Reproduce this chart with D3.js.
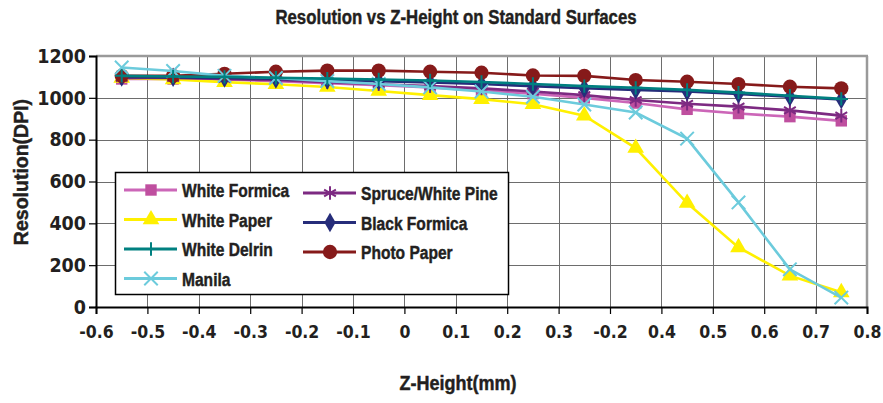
<!DOCTYPE html>
<html>
<head>
<meta charset="utf-8">
<script src="https://cdn.jsdelivr.net/npm/d3@7"></script>
<style>
  body { margin: 0; background: #fff; }
  svg { display: block; }
  text { fill: #231f20; font-weight: bold; }
</style>
</head>
<body>
<svg width="883" height="403"></svg>
<script>
// z positions of the measurements (one per category slot)
const zHeights = [-0.55, -0.45, -0.35, -0.25, -0.15, -0.05, 0.05, 0.15, 0.25, 0.35, 0.45, 0.55, 0.65, 0.75, 0.85];
// labels written under the slot boundaries, as in the original (including its odd "-0.2")
const xTickLabels = ["-0.6", "-0.5", "-0.4", "-0.3", "-0.2", "-0.1", "0", "0.1", "0.2", "0.3", "-0.2", "0.4", "0.5", "0.6", "0.7", "0.8"];
const yTicks = [0, 200, 400, 600, 800, 1000, 1200];

const whiteFormica   = [1090, 1090, 1088, 1080, 1070, 1060, 1050, 1035, 1020, 1000, 975, 945, 925, 910, 890];
const whitePaper     = [1095, 1088, 1075, 1065, 1052, 1033, 1013, 994, 969, 915, 760, 497, 285, 150, 70];
const whiteDelrin    = [1105, 1102, 1100, 1096, 1092, 1088, 1083, 1076, 1066, 1056, 1048, 1038, 1025, 1010, 995];
const manila         = [1145, 1128, 1105, 1095, 1080, 1066, 1050, 1030, 1005, 968, 930, 805, 500, 180, 45];
const spruce         = [1095, 1095, 1090, 1085, 1075, 1065, 1056, 1045, 1030, 1013, 990, 972, 958, 940, 915];
const blackFormica   = [1100, 1098, 1095, 1090, 1085, 1080, 1074, 1066, 1056, 1046, 1038, 1030, 1018, 1005, 992];
const photoPaper     = [1105, 1105, 1115, 1125, 1130, 1130, 1125, 1120, 1107, 1105, 1085, 1077, 1066, 1053, 1045];

const series = [
  { name: "White Formica",     values: whiteFormica, line: "#cc66b8", mark: "#bf4f9f", sym: d3.symbolSquare,   size: 130, fill: true },
  { name: "White Paper",       values: whitePaper,   line: "#fff000", mark: "#fff000", sym: d3.symbolTriangle, size: 120, fill: true },
  { name: "Spruce/White Pine", values: spruce,       line: "#7d2a82", mark: "#7d2a82", sym: d3.symbolAsterisk, size: 130, fill: false },
  { name: "Black Formica",     values: blackFormica, line: "#262d7a", mark: "#262d7a", sym: d3.symbolDiamond,  size: 110, fill: true },
  { name: "Photo Paper",       values: photoPaper,   line: "#861a1a", mark: "#861a1a", sym: d3.symbolCircle,   size: 160, fill: true },
  { name: "Manila",            values: manila,       line: "#6ccbdc", mark: "#6ccbdc", sym: d3.symbolTimes,    size: 120, fill: false },
  { name: "White Delrin",      values: whiteDelrin,  line: "#008080", mark: "#008080", sym: d3.symbolPlus,     size: 60,  fill: false }
];
const legendCols = [
  ["White Formica", "White Paper", "White Delrin", "Manila"],
  ["Spruce/White Pine", "Black Formica", "Photo Paper"]
];

const svg = d3.select("svg");
const sans = "'Liberation Sans', Arial, sans-serif";
const cond = "'DejaVu Sans Condensed', 'Liberation Sans', sans-serif";

const pLeft = 96, pRight = 867, pTop = 56, pBottom = 307;

const x = d3.scaleBand().domain(zHeights).range([pLeft, pRight]).padding(0);
const y = d3.scaleLinear().domain([0, 1200]).range([pBottom, pTop]);

// bold text squeezed sideways to get a condensed face
function narrowText(parent, tx, ty, str, size, anchor, squeeze) {
  return parent.append("text")
    .attr("transform", `translate(${tx},${ty}) scale(${squeeze},1)`)
    .attr("text-anchor", anchor)
    .style("font-family", sans).style("font-size", size + "px")
    .style("stroke", "#231f20").style("stroke-width", 0.45)
    .text(str);
}

// title
narrowText(svg, 456, 24, "Resolution vs Z-Height on Standard Surfaces", 20.5, "middle", 0.82);

// grid
const grid = svg.append("g").attr("stroke", "#6d6d6d").attr("stroke-width", 1);
yTicks.slice(1, -1).forEach(t => {
  grid.append("line").attr("x1", pLeft).attr("x2", pRight)
      .attr("y1", Math.round(y(t)) + 0.5).attr("y2", Math.round(y(t)) + 0.5);
});
const bounds = xTickLabels.map((d, i) => pLeft + i * x.bandwidth());
bounds.slice(1, -1).forEach(b => {
  grid.append("line").attr("y1", pTop).attr("y2", pBottom)
      .attr("x1", Math.round(b) + 0.5).attr("x2", Math.round(b) + 0.5);
});

// frame: grey top/right, black axes left/bottom
svg.append("line").attr("x1", pLeft).attr("x2", pRight + 1).attr("y1", pTop).attr("y2", pTop)
   .attr("stroke", "#9a9a9a").attr("stroke-width", 2.5);
svg.append("line").attr("x1", pRight).attr("x2", pRight).attr("y1", pTop).attr("y2", pBottom)
   .attr("stroke", "#9a9a9a").attr("stroke-width", 2.5);

// y axis
const yAxis = svg.append("g").attr("transform", `translate(${pLeft},0)`)
   .call(d3.axisLeft(y).tickValues(yTicks).tickFormat(d3.format("d")).tickSize(7).tickPadding(3));
yAxis.select(".domain").attr("stroke", "#000").attr("stroke-width", 2);
yAxis.selectAll(".tick line").attr("stroke", "#000").attr("stroke-width", 1.2);
yAxis.selectAll(".tick text")
   .style("font-family", cond).style("font-size", "19.5px").style("font-weight", "bold")
   .attr("fill", "#231f20");

// x axis: ticks at slot boundaries
const xb = d3.scaleLinear().domain([0, xTickLabels.length - 1]).range([pLeft, pRight]);
const xAxis = svg.append("g").attr("transform", `translate(0,${pBottom})`)
   .call(d3.axisBottom(xb).tickValues(d3.range(xTickLabels.length))
     .tickFormat(i => xTickLabels[i]).tickSize(7).tickPadding(12));
xAxis.select(".domain").attr("stroke", "#000").attr("stroke-width", 2);
xAxis.selectAll(".tick line").attr("stroke", "#000").attr("stroke-width", 1.2);
xAxis.selectAll(".tick text")
   .style("font-family", cond).style("font-size", "17.5px").style("font-weight", "bold")
   .attr("fill", "#231f20");

// axis titles
narrowText(svg, 458, 390, "Z-Height(mm)", 20, "middle", 0.9);
svg.append("text")
   .attr("transform", "translate(28,172) rotate(-90)")
   .attr("text-anchor", "middle")
   .style("font-family", sans).style("font-size", "19.5px")
   .style("stroke", "#231f20").style("stroke-width", 0.45)
   .text("Resolution(DPI)");

// series
const line = d3.line()
   .x((d, i) => x(zHeights[i]) + x.bandwidth() / 2)
   .y(d => y(d));

function marker(sel, s) {
  sel.attr("d", d3.symbol().type(s.sym).size(s.size)())
     .attr("fill", s.fill ? s.mark : "none")
     .attr("stroke", s.mark)
     .attr("stroke-width", s.fill ? 0 : 2);
}

const plot = svg.append("g");
series.forEach(s => {
  plot.append("path")
      .datum(s.values)
      .attr("d", line)
      .attr("fill", "none")
      .attr("stroke", s.line)
      .attr("stroke-width", 2.6);
  plot.selectAll(null)
      .data(s.values)
      .enter()
      .append("path")
      .attr("transform", (d, i) => `translate(${x(zHeights[i]) + x.bandwidth() / 2},${y(d)})`)
      .call(marker, s);
});

// legend
const lg = svg.append("g");
lg.append("rect").attr("x", 115.5).attr("y", 172.5).attr("width", 393).attr("height", 122)
  .attr("fill", "#fff").attr("stroke", "#000").attr("stroke-width", 1.5);
legendCols.forEach((col, c) => {
  col.forEach((name, r) => {
    const s = series.find(d => d.name === name);
    const lx = c === 0 ? 124 : 303;
    const ly = (c === 0 ? 190 : 193) + r * 29.5;
    lg.append("line").attr("x1", lx).attr("x2", lx + 53).attr("y1", ly).attr("y2", ly)
      .attr("stroke", s.line).attr("stroke-width", 3);
    lg.append("path").attr("transform", `translate(${lx + 27},${ly})`).call(marker, s);
    narrowText(lg, lx + 58, ly + 7, name, 19, "start", 0.82);
  });
});
</script>
</body>
</html>
